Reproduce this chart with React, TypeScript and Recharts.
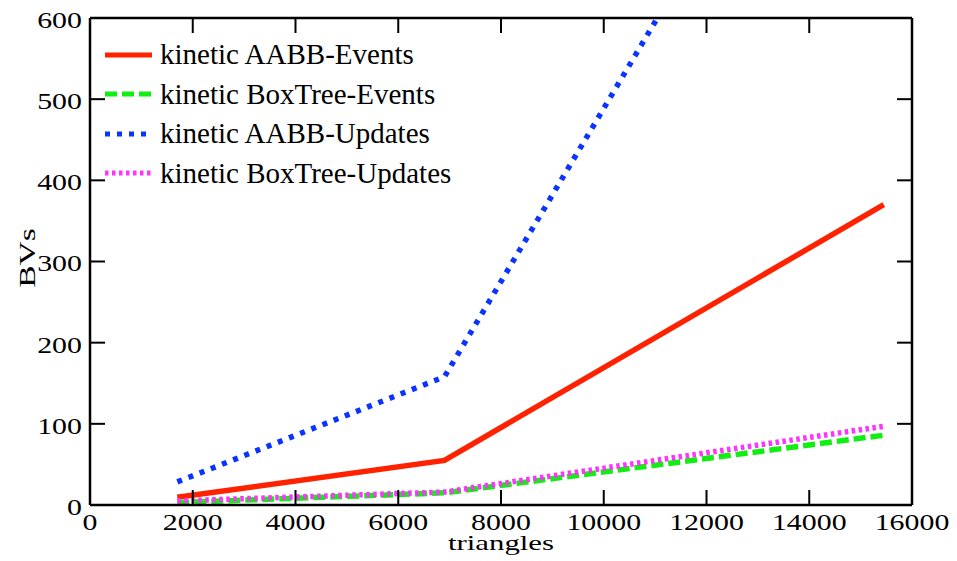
import React from 'react';
import { LineChart, Line, XAxis, YAxis, Legend } from 'recharts';

// values
const triangles = [1700, 6900, 15450];
const aabbEvents = [9.5, 55, 370];
const boxTreeEvents = [3, 15, 86];
const aabbUpdates = [28.5, 158, 1070];
const boxTreeUpdates = [5, 16, 97];

const xTicks = [0, 2000, 4000, 6000, 8000, 10000, 12000, 14000, 16000];
const yTicks = [0, 100, 200, 300, 400, 500, 600];

const series = [
    { key: 'aabbEvents', name: 'kinetic AABB-Events', color: '#ff2200', dash: undefined },
    { key: 'boxTreeEvents', name: 'kinetic BoxTree-Events', color: '#11ee11', dash: '12 5' },
    { key: 'aabbUpdates', name: 'kinetic AABB-Updates', color: '#0a33ff', dash: '5 7' },
    { key: 'boxTreeUpdates', name: 'kinetic BoxTree-Updates', color: '#ff33ff', dash: '3.5 3.5' },
];

const rows = triangles.map((x, i) => ({
    x,
    aabbEvents: aabbEvents[i],
    boxTreeEvents: boxTreeEvents[i],
    aabbUpdates: aabbUpdates[i],
    boxTreeUpdates: boxTreeUpdates[i],
}));

const FONT = '"Liberation Serif", "Times New Roman", serif';

// eslint-disable-next-line @typescript-eslint/no-explicit-any
const XTick = (props: any) => (
    <g transform={`translate(${props.x},${props.y})`}>
        <text transform="scale(1.3,1)" textAnchor="middle" dy="0.35em" fontFamily={FONT} fontSize={23} fill="#000">
            {props.payload.value}
        </text>
    </g>
);

// eslint-disable-next-line @typescript-eslint/no-explicit-any
const YTick = (props: any) => (
    <g transform={`translate(${props.x},${props.y})`}>
        <text transform="scale(1.3,1)" textAnchor="end" dy="0.43em" fontFamily={FONT} fontSize={23} fill="#000">
            {props.payload.value}
        </text>
    </g>
);

// eslint-disable-next-line @typescript-eslint/no-explicit-any
const renderLegend = (props: any) => {
    // keep the order of the series list, skip the helper line
    const items = series
        // eslint-disable-next-line @typescript-eslint/no-explicit-any
        .map(s => ({ s, entry: props.payload.find((p: any) => p.dataKey === s.key && p.type !== 'none') }))
        .filter(d => d.entry);
    return (
        <div style={{ fontFamily: FONT, fontSize: 29, color: '#000' }}>
            {items.map(({ s, entry }) => (
                <div key={s.key} style={{ display: 'flex', alignItems: 'center', height: 39.5, whiteSpace: 'nowrap' }}>
                    <svg width={47} height={8} style={{ display: 'block' }}>
                        <line x1={0} y1={4} x2={47} y2={4} stroke={entry.color} strokeWidth={5} strokeDasharray={s.dash} />
                    </svg>
                    <span style={{ marginLeft: 8, lineHeight: '39.5px' }}>{entry.value}</span>
                </div>
            ))}
        </div>
    );
};

const axisStroke = { stroke: '#000', strokeWidth: 2.5 };
const tickStroke = { stroke: '#000', strokeWidth: 2 };

export default function App() {
    return (
        <div style={{ position: 'absolute', left: 0, top: 0, width: 957, height: 561, background: '#fff' }}>
            <LineChart width={957} height={561} data={rows} margin={{ top: 17, right: 44, bottom: 0, left: 0 }}>
                <XAxis
                    dataKey="x"
                    type="number"
                    domain={[0, 16000]}
                    ticks={xTicks}
                    interval={0}
                    height={56}
                    tickSize={-15}
                    tickMargin={31.5}
                    tick={<XTick />}
                    axisLine={axisStroke}
                    tickLine={tickStroke}
                    label={{
                        // eslint-disable-next-line @typescript-eslint/no-explicit-any
                        content: (p: any) => (
                            <g transform={`translate(${p.viewBox.x + p.viewBox.width / 2},${p.viewBox.y + 45})`}>
                                <text transform="scale(1.4,1)" textAnchor="middle" fontFamily={FONT} fontSize={22} fill="#000">triangles</text>
                            </g>
                        ),
                    }}
                />
                <XAxis
                    xAxisId="top"
                    dataKey="x"
                    orientation="top"
                    type="number"
                    domain={[0, 16000]}
                    ticks={xTicks}
                    interval={0}
                    height={1}
                    tickSize={-15}
                    tickFormatter={() => ''}
                    axisLine={axisStroke}
                    tickLine={tickStroke}
                />
                <YAxis
                    type="number"
                    domain={[0, 600]}
                    ticks={yTicks}
                    interval={0}
                    allowDataOverflow
                    width={90}
                    tickSize={-15}
                    tickMargin={23}
                    tick={<YTick />}
                    axisLine={axisStroke}
                    tickLine={tickStroke}
                    label={{
                        // eslint-disable-next-line @typescript-eslint/no-explicit-any
                        content: (p: any) => (
                            <g transform={`translate(27,${p.viewBox.y + 240}) rotate(-90)`}>
                                <text transform="scale(1.4,1)" textAnchor="middle" dominantBaseline="central" fontFamily={FONT} fontSize={24} fill="#000">BVs</text>
                            </g>
                        ),
                    }}
                />
                <YAxis
                    yAxisId="right"
                    orientation="right"
                    type="number"
                    domain={[0, 600]}
                    ticks={yTicks}
                    interval={0}
                    allowDataOverflow
                    width={1}
                    tickSize={-15}
                    tickFormatter={() => ''}
                    axisLine={axisStroke}
                    tickLine={tickStroke}
                />
                <Legend
                    layout="vertical"
                    align="center"
                    verticalAlign="middle"
                    content={renderLegend}
                    wrapperStyle={{ left: 105, top: 35, width: 420, height: 160 }}
                />
                {/* invisible helper so the top and right frame axes get drawn */}
                <Line
                    xAxisId="top"
                    yAxisId="right"
                    dataKey="boxTreeEvents"
                    stroke="none"
                    legendType="none"
                    dot={false}
                    activeDot={false}
                    isAnimationActive={false}
                />
                {series.map(s => (
                    <Line
                        key={s.key}
                        dataKey={s.key}
                        name={s.name}
                        stroke={s.color}
                        strokeWidth={5.5}
                        strokeDasharray={s.dash}
                        dot={false}
                        activeDot={false}
                        isAnimationActive={false}
                    />
                ))}
            </LineChart>
        </div>
    );
}
